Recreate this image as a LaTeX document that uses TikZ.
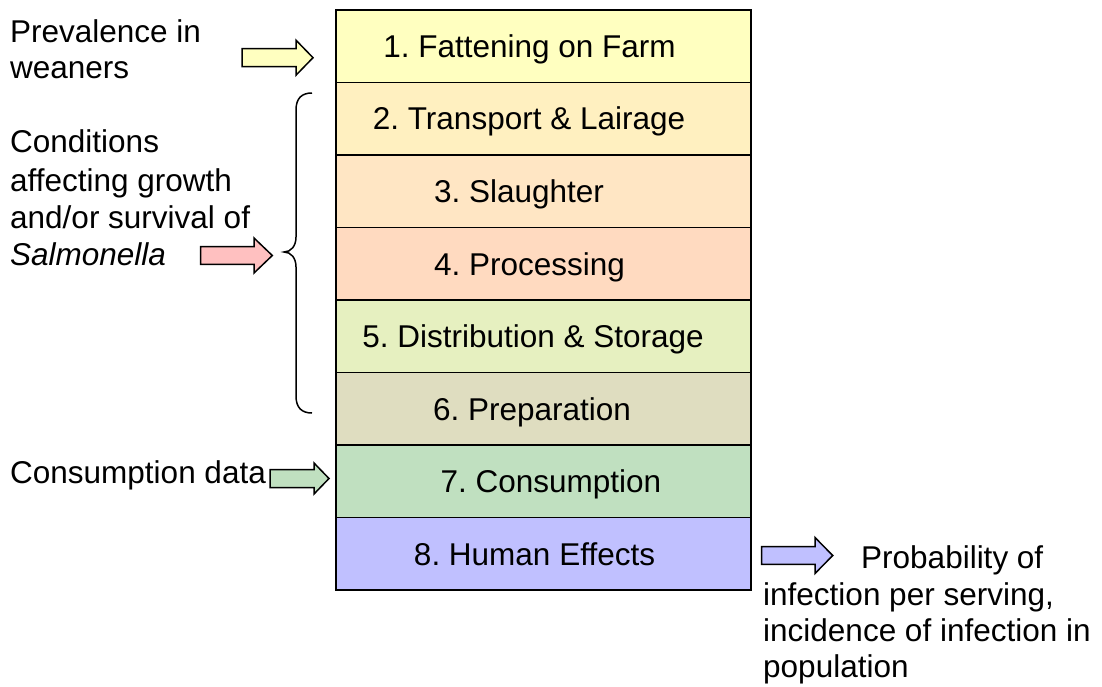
\documentclass[tikz,border=0pt]{standalone}
\usepackage{fontspec}
\setmainfont{Liberation Sans}
\frenchspacing
\definecolor{c1}{HTML}{FFFFC0}
\definecolor{c2}{HTML}{FFF0C0}
\definecolor{c3}{HTML}{FFE6C4}
\definecolor{c4}{HTML}{FFDAC0}
\definecolor{c5}{HTML}{E6F0C0}
\definecolor{c6}{HTML}{DFDDC0}
\definecolor{c7}{HTML}{C0E0C0}
\definecolor{c8}{HTML}{C0C0FF}
\definecolor{ay}{HTML}{FFFFC0}
\definecolor{ap}{HTML}{FFC0C0}
\definecolor{ag}{HTML}{C0E0C0}
\definecolor{ab}{HTML}{C0C0FF}
\newcommand{\blockarrow}[8]{% x1, x2(head base), xtip, yc, shaft half, head half, colour
  \fill[#7,draw=black,line width=1.5pt,line join=miter]
    (#1,#4-#5) -- (#2,#4-#5) -- (#2,#4-#6) -- (#3,#4) -- (#2,#4+#6) -- (#2,#4+#5) -- (#1,#4+#5) -- cycle;}
\begin{document}
\begin{tikzpicture}[x=1pt,y=-1pt,
  row/.style={draw=black,line width=1.5pt,minimum width=415pt,minimum height=72.5pt,inner sep=0pt,outer sep=0pt},
  txt/.style={font=\fontsize{31.5}{37}\selectfont,inner sep=0pt,anchor=base},
  side/.style={font=\fontsize{31.5}{37}\selectfont,inner sep=0pt,anchor=base west}]
\useasboundingbox (0,0) rectangle (1102,687);
\node[row,fill=c1] (r1) at (543.5,46.25) {};
\node[row,fill=c2] (r2) at (543.5,118.75) {};
\node[row,fill=c3] (r3) at (543.5,191.25) {};
\node[row,fill=c4] (r4) at (543.5,263.75) {};
\node[row,fill=c5] (r5) at (543.5,336.25) {};
\node[row,fill=c6] (r6) at (543.5,408.75) {};
\node[row,fill=c7] (r7) at (543.5,481.25) {};
\node[row,fill=c8] (r8) at (543.5,553.75) {};
\node[txt] (t1) at (529.5,57.5) {1. Fattening on Farm};
\node[txt] (t2) at (529,130) {2. Transport \& Lairage};
\node[txt] (t3) at (519,202.5) {3. Slaughter};
\node[txt] (t4) at (529.5,275) {4. Processing};
\node[txt] (t5) at (533,347.5) {5. Distribution \& Storage};
\node[txt] (t6) at (532,420) {6. Preparation};
\node[txt] (t7) at (551,492.5) {7. Consumption};
\node[txt] (t8) at (534.5,565) {8. Human Effects};
% left texts
\node[side] (p1) at (10,43) {Prevalence in};
\node[side] (p2) at (10,79) {weaners};
\node[side] (k1) at (10,153) {Conditions};
\node[side] (k2) at (10,191) {affecting growth};
\node[side] (k3) at (10,228) {and/or survival of};
\node[side] (k4) at (10,265) {\itshape Salmonella};
\node[side] (d1) at (10,483) {Consumption data};
% right texts
\node[side] (o1) at (861,568) {Probability of};
\node[side] (o2) at (763,605) {infection per serving,};
\node[side] (o3) at (763,641) {incidence of infection in};
\node[side] (o4) at (763,677) {population};
% block arrows
\blockarrow{242}{296}{313}{57.7}{9}{17.5}{ay}{}
\blockarrow{200.7}{254}{272.3}{255.5}{8.8}{17.5}{ap}{}
\blockarrow{270}{314}{329}{478.5}{9}{15.5}{ag}{}
\blockarrow{761.7}{815}{832.7}{555.5}{8.8}{18}{ab}{}
% brace
\draw[line width=1.5pt] (312,93) .. controls (302,93) and (296,98) .. (296,110) -- (296,237)
  .. controls (296,246) and (291,252) .. (284,252)
  .. controls (291,252) and (296,258) .. (296,267) -- (296,396)
  .. controls (296,408) and (302,413) .. (312,413);
\end{tikzpicture}
\end{document}
